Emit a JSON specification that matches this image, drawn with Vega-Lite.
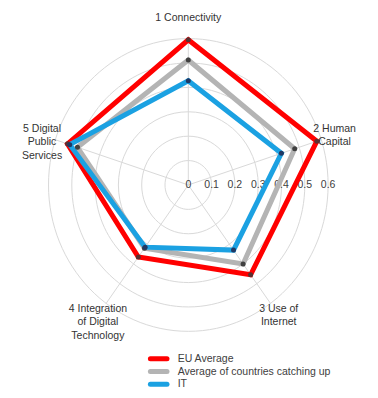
{
  "$schema": "https://vega.github.io/schema/vega-lite/v6.json",
  "width": 378,
  "height": 398,
  "autosize": "none",
  "padding": 0,
  "background": "white",
  "config": {"view": {"stroke": null}, "font": "Liberation Sans"},
  "datasets": {
    "scores": [
      {"series": "EU Average", "k": 1, "dim": "Connectivity", "value": 0.595},
      {"series": "EU Average", "k": 2, "dim": "Human Capital", "value": 0.58},
      {"series": "EU Average", "k": 3, "dim": "Use of Internet", "value": 0.455},
      {"series": "EU Average", "k": 4, "dim": "Integration of Digital Technology", "value": 0.365},
      {"series": "EU Average", "k": 5, "dim": "Digital Public Services", "value": 0.545},
      {"series": "Average of countries catching up", "k": 1, "dim": "Connectivity", "value": 0.512},
      {"series": "Average of countries catching up", "k": 2, "dim": "Human Capital", "value": 0.48},
      {"series": "Average of countries catching up", "k": 3, "dim": "Use of Internet", "value": 0.40},
      {"series": "Average of countries catching up", "k": 4, "dim": "Integration of Digital Technology", "value": 0.32},
      {"series": "Average of countries catching up", "k": 5, "dim": "Digital Public Services", "value": 0.50},
      {"series": "IT", "k": 1, "dim": "Connectivity", "value": 0.427},
      {"series": "IT", "k": 2, "dim": "Human Capital", "value": 0.42},
      {"series": "IT", "k": 3, "dim": "Use of Internet", "value": 0.33},
      {"series": "IT", "k": 4, "dim": "Integration of Digital Technology", "value": 0.315},
      {"series": "IT", "k": 5, "dim": "Digital Public Services", "value": 0.535}
    ],
    "dims": [
      {"k": 1, "label": "1 Connectivity"},
      {"k": 2, "label": "2 Human\nCapital"},
      {"k": 3, "label": "3 Use of\nInternet"},
      {"k": 4, "label": "4 Integration\nof Digital\nTechnology"},
      {"k": 5, "label": "5 Digital\nPublic\nServices"}
    ],
    "ticks": [
      {"v": 0}, {"v": 0.1}, {"v": 0.2}, {"v": 0.3}, {"v": 0.4}, {"v": 0.5}, {"v": 0.6}
    ]
  },
  "layer": [
    {
      "data": {"name": "ticks"},
      "transform": [{"filter": "datum.v > 0"}],
      "mark": {"type": "point", "shape": "M -1 0 A 1 1.047 0 1 1 1 0 A 1 1.047 0 1 1 -1 0 Z", "filled": false, "stroke": "#d9d9d9", "strokeWidth": 1, "opacity": 1},
      "encoding": {
        "x": {"datum": 0, "type": "quantitative", "scale": {"domain": [-0.808, 0.814], "nice": false, "zero": false}, "axis": null},
        "y": {"datum": 0, "type": "quantitative", "scale": {"domain": [-0.873, 0.758], "nice": false, "zero": false}, "axis": null},
        "size": {"field": "v", "type": "quantitative", "scale": {"type": "pow", "exponent": 2, "domain": [0, 0.6], "range": [0, 78176]}, "legend": null}
      }
    },
    {
      "data": {"name": "dims"},
      "transform": [
        {"calculate": "(datum.k - 1) * 2 * PI / 5", "as": "ang"},
        {"calculate": "0.6 * sin(datum.ang)", "as": "ex"},
        {"calculate": "0.6 * cos(datum.ang)", "as": "ey"}
      ],
      "mark": {"type": "rule", "stroke": "#d9d9d9", "strokeWidth": 1},
      "encoding": {
        "x": {"field": "ex", "type": "quantitative"},
        "y": {"field": "ey", "type": "quantitative"},
        "x2": {"datum": 0},
        "y2": {"datum": 0}
      }
    },
    {
      "data": {"name": "ticks"},
      "mark": {"type": "text", "fontSize": 10.5, "color": "#404040", "align": "center", "baseline": "middle", "dy": 0.5},
      "encoding": {
        "x": {"field": "v", "type": "quantitative"},
        "y": {"datum": 0, "type": "quantitative"},
        "text": {"field": "v", "type": "quantitative", "format": "~g"}
      }
    },
    {
      "data": {"name": "scores"},
      "transform": [
        {"calculate": "(datum.k - 1) * 2 * PI / 5", "as": "ang"},
        {"calculate": "datum.value * sin(datum.ang)", "as": "px"},
        {"calculate": "datum.value * cos(datum.ang)", "as": "py"}
      ],
      "mark": {"type": "line", "interpolate": "linear-closed", "strokeWidth": 5, "strokeJoin": "miter"},
      "encoding": {
        "x": {"field": "px", "type": "quantitative"},
        "y": {"field": "py", "type": "quantitative"},
        "order": {"field": "k", "type": "quantitative"},
        "color": {
          "field": "series", "type": "nominal",
          "scale": {"domain": ["EU Average", "Average of countries catching up", "IT"], "range": ["#ff0000", "#b4b4b4", "#1ba1e2"]},
          "legend": {
            "orient": "none", "legendX": 153.2, "legendY": 353.3, "title": null,
            "symbolType": "M -3 0 L 3 0", "symbolStrokeWidth": 5, "symbolSize": 30.6,
            "labelFontSize": 10.5, "labelColor": "#404040", "labelOffset": 13.5, "rowPadding": 1.7,
            "encode": {"symbols": {"update": {"strokeJoin": {"value": "round"}, "strokeCap": {"value": "round"}}}}
          }
        }
      }
    },
    {
      "data": {"name": "scores"},
      "transform": [
        {"calculate": "(datum.k - 1) * 2 * PI / 5", "as": "ang"},
        {"calculate": "datum.value * sin(datum.ang)", "as": "px"},
        {"calculate": "datum.value * cos(datum.ang)", "as": "py"}
      ],
      "mark": {"type": "point", "filled": true, "size": 25, "opacity": 1},
      "encoding": {
        "x": {"field": "px", "type": "quantitative"},
        "y": {"field": "py", "type": "quantitative"},
        "fill": {
          "field": "series", "type": "nominal",
          "scale": {"domain": ["EU Average", "Average of countries catching up", "IT"], "range": ["#5c3030", "#404040", "#1f3864"]},
          "legend": null
        }
      }
    },
    {
      "data": {"name": "dims"},
      "transform": [
        {"calculate": "(datum.k - 1) * 2 * PI / 5", "as": "ang"},
        {"calculate": "0.66 * sin(datum.ang)", "as": "lx"},
        {"calculate": "0.66 * cos(datum.ang)", "as": "ly"}
      ],
      "mark": {"type": "text", "fontSize": 10.5, "color": "#333333", "align": "center", "baseline": "middle", "lineBreak": "\n", "lineHeight": 13.2, "dy": -6},
      "encoding": {
        "x": {"field": "lx", "type": "quantitative"},
        "y": {"field": "ly", "type": "quantitative"},
        "text": {"field": "label", "type": "nominal"}
      }
    }
  ]
}
